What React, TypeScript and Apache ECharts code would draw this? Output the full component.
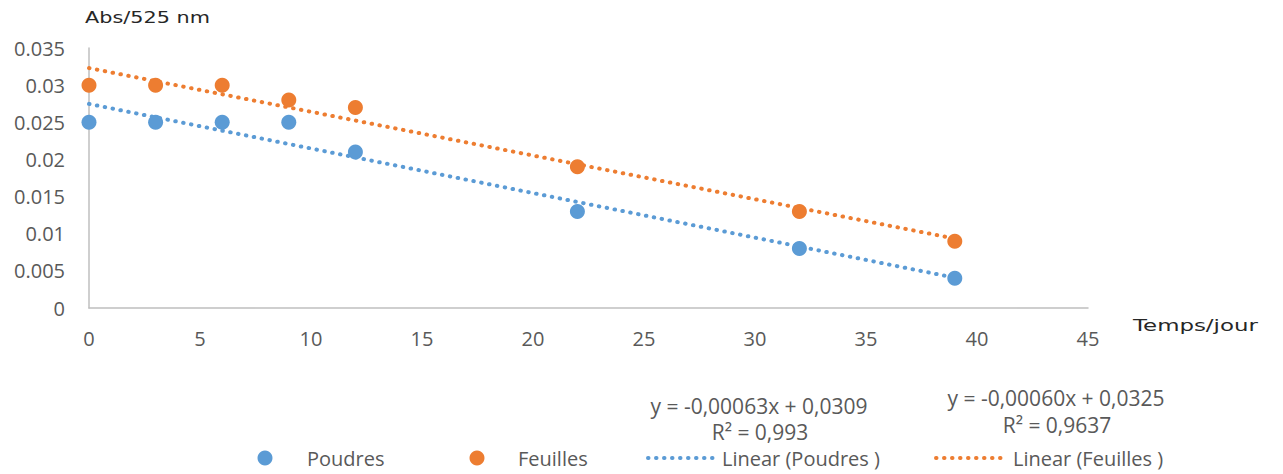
import React, { useEffect, useRef } from "react";
import * as echarts from "echarts";

const xTicks = { min: 0, max: 45, interval: 5 };
const yTicks = { min: 0, max: 0.035, interval: 0.005 };

const days: number[] = [0, 3, 6, 9, 12, 22, 32, 39];
const poudres: number[] = [0.025, 0.025, 0.025, 0.025, 0.021, 0.013, 0.008, 0.004];
const feuilles: number[] = [0.03, 0.03, 0.03, 0.028, 0.027, 0.019, 0.013, 0.009];

const seriesNames = ["Poudres", "Feuilles", "Linear (Poudres )", "Linear (Feuilles )"];
const equationPoudres = ["y = -0,00063x + 0,0309", "R² = 0,993"];
const equationFeuilles = ["y = -0,00060x + 0,0325", "R² = 0,9637"];
const yAxisTitle = "Abs/525 nm";
const xAxisTitle = "Temps/jour";

const BLUE = "#5B9BD5";
const ORANGE = "#ED7D31";
const TXT = "#595959";
const FONT = "'Open Sans', sans-serif";
const DOT_DASH = [0.5, 7.5];

// least-squares linear trend (what the "Linear" trendline is)
function trend(xs: number[], ys: number[]): number[][] {
  const n = xs.length;
  const mx = xs.reduce((a, b) => a + b, 0) / n;
  const my = ys.reduce((a, b) => a + b, 0) / n;
  let sxy = 0;
  let sxx = 0;
  for (let i = 0; i < n; i++) {
    sxy += (xs[i] - mx) * (ys[i] - my);
    sxx += (xs[i] - mx) * (xs[i] - mx);
  }
  const m = sxy / sxx;
  const b = my - m * mx;
  const x0 = Math.min(...xs);
  const x1 = Math.max(...xs);
  return [
    [x0, m * x0 + b],
    [x1, m * x1 + b],
  ];
}

export default function App() {
  const ref = useRef<HTMLDivElement>(null);
  useEffect(() => {
    if (!ref.current) return;
    const chart = echarts.init(ref.current, undefined, { renderer: "svg" });
    const dotted = (color: string) => ({
      color,
      width: 4,
      type: DOT_DASH,
      cap: "round" as const,
    });
    const LEG_Y = 458;
    const txt = (text: string, x: number, y: number, align: string, size = 20) => ({
      type: "text",
      x,
      y,
      style: { text, fontFamily: FONT, fontSize: size, fill: TXT, textAlign: align, textVerticalAlign: "middle" },
    });
    const legendGraphics = [
      { type: "circle", shape: { cx: 265, cy: LEG_Y, r: 7.5 }, style: { fill: BLUE } },
      txt(seriesNames[0], 307, LEG_Y, "left"),
      { type: "circle", shape: { cx: 477, cy: LEG_Y, r: 7.5 }, style: { fill: ORANGE } },
      txt(seriesNames[1], 518, LEG_Y, "left"),
      {
        type: "line",
        shape: { x1: 648, y1: LEG_Y, x2: 715, y2: LEG_Y },
        style: { stroke: BLUE, lineWidth: 4, lineDash: DOT_DASH, lineCap: "round" },
      },
      txt(seriesNames[2], 722, LEG_Y, "left"),
      {
        type: "line",
        shape: { x1: 936, y1: LEG_Y, x2: 1007, y2: LEG_Y },
        style: { stroke: ORANGE, lineWidth: 4, lineDash: DOT_DASH, lineCap: "round" },
      },
      txt(seriesNames[3], 1013, LEG_Y, "left"),
    ];
    chart.setOption({
      animation: false,
      backgroundColor: "#ffffff",
      grid: { left: 89, right: 195, top: 48, bottom: 166, containLabel: false },
      xAxis: {
        type: "value",
        min: xTicks.min,
        max: xTicks.max,
        interval: xTicks.interval,
        axisLine: { show: true, onZero: false, lineStyle: { color: "#BFBFBF", width: 1.5 } },
        axisTick: { show: false },
        splitLine: { show: false },
        axisLabel: { color: TXT, fontFamily: FONT, fontSize: 20, margin: 20 },
      },
      yAxis: {
        type: "value",
        min: yTicks.min,
        max: yTicks.max,
        interval: yTicks.interval,
        axisLine: { show: true, lineStyle: { color: "#BFBFBF", width: 1.5 } },
        axisTick: { show: false },
        splitLine: { show: false },
        axisLabel: { color: TXT, fontFamily: FONT, fontSize: 20, margin: 24 },
      },
      series: [
        {
          name: seriesNames[2],
          type: "line",
          data: trend(days, poudres),
          symbol: "none",
          lineStyle: dotted(BLUE),
          itemStyle: { color: BLUE },
          z: 2,
        },
        {
          name: seriesNames[3],
          type: "line",
          data: trend(days, feuilles),
          symbol: "none",
          lineStyle: dotted(ORANGE),
          itemStyle: { color: ORANGE },
          z: 2,
        },
        {
          name: seriesNames[0],
          type: "scatter",
          data: days.map((d, i) => [d, poudres[i]]),
          symbolSize: 15,
          itemStyle: { color: BLUE, opacity: 1 },
          z: 3,
        },
        {
          name: seriesNames[1],
          type: "scatter",
          data: days.map((d, i) => [d, feuilles[i]]),
          symbolSize: 15,
          itemStyle: { color: ORANGE, opacity: 1 },
          z: 3,
        },
      ],
      graphic: [
        {
          type: "text",
          x: 85,
          y: 17,
          scaleX: 1.3,
          style: {
            text: yAxisTitle,
            fontFamily: "'DejaVu Sans', sans-serif",
            fontSize: 16,
            fill: "#262626",
            textAlign: "left",
            textVerticalAlign: "middle",
          },
        },
        {
          type: "text",
          x: 1133,
          y: 326,
          scaleX: 1.43,
          style: {
            text: xAxisTitle,
            fontFamily: "'DejaVu Sans', sans-serif",
            fontSize: 16,
            fill: "#262626",
            textAlign: "left",
            textVerticalAlign: "middle",
          },
        },
        txt(equationPoudres[0], 759, 406, "center", 21),
        txt(equationPoudres[1], 760, 432, "center", 21),
        txt(equationFeuilles[0], 1056, 398, "center", 21),
        txt(equationFeuilles[1], 1057, 425, "center", 21),
        ...legendGraphics,
      ],
    });
    return () => chart.dispose();
  }, []);
  return <div ref={ref} style={{ width: 1283, height: 474, position: "absolute", left: 0, top: 0 }} />;
}
